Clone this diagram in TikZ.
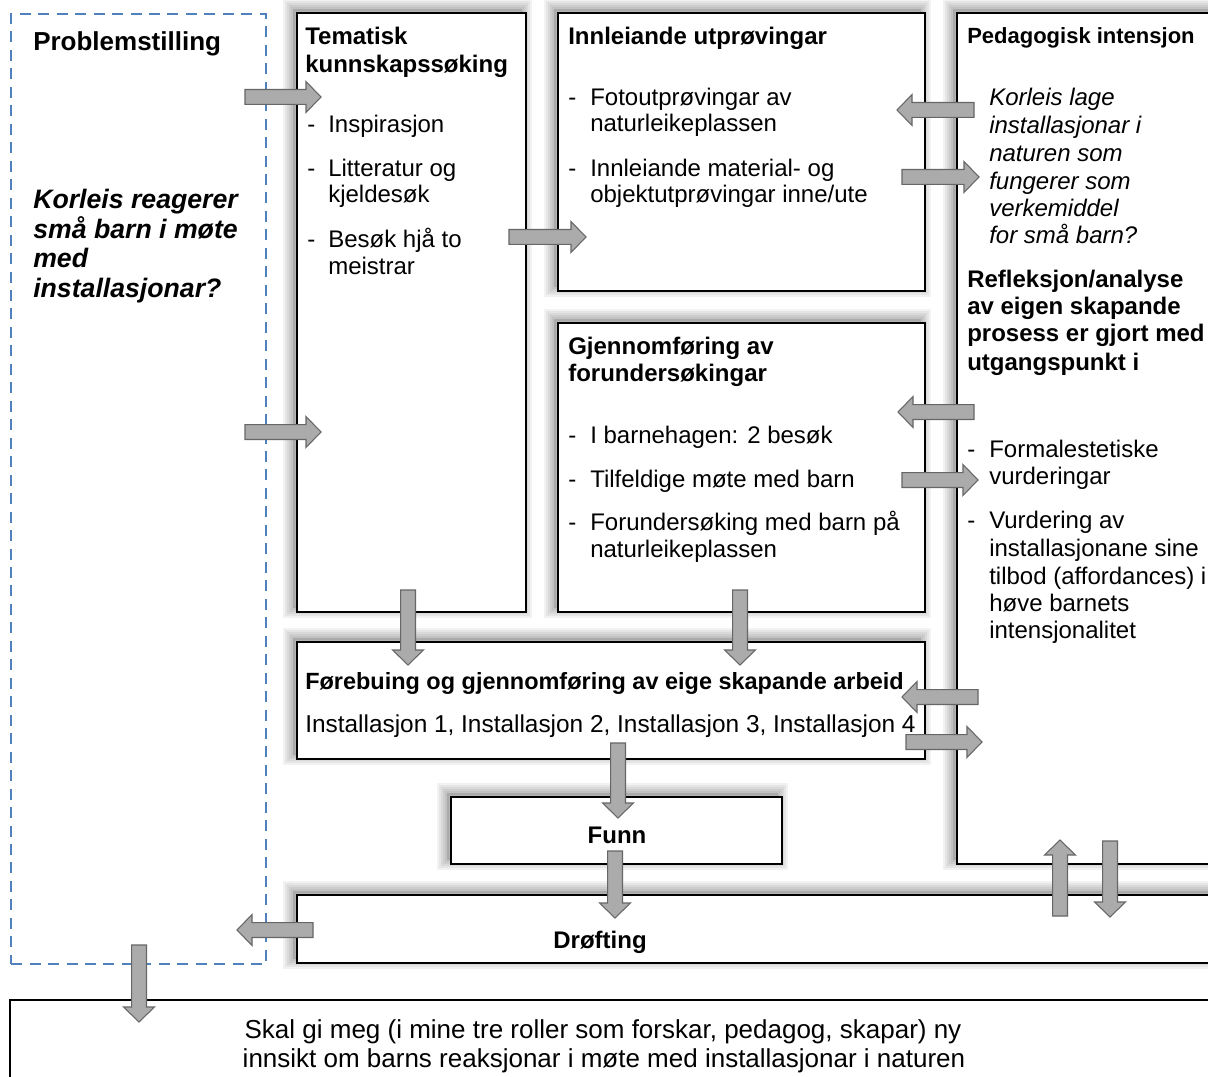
\documentclass[tikz,border=0pt]{standalone}
\usepackage{fontspec}
\setmainfont{Liberation Sans}
\usetikzlibrary{calc}
\definecolor{dashblue}{HTML}{4F81BD}
\definecolor{arrfill}{HTML}{ABABAB}
\definecolor{arrline}{HTML}{666666}
\tikzset{
  shz/.style={transform canvas={xshift=-3pt,yshift=3pt}},
  sh/.style={
    preaction={fill=black, fill opacity=0.12, shz},
    preaction={draw=black, draw opacity=0.05, line width=3pt, shz},
    preaction={draw=black, draw opacity=0.05, line width=6pt, shz},
    preaction={draw=black, draw opacity=0.05, line width=9pt, shz},
    preaction={draw=black, draw opacity=0.05, line width=12pt, shz},
    preaction={draw=black, draw opacity=0.05, line width=15pt, shz}},
  box/.style={draw=black, line width=1.1pt, fill=white, inner sep=0pt, outer sep=0pt, anchor=north west},
  dbox/.style={draw=dashblue, line width=1.7pt, dash pattern=on 8.25pt off 5.6pt, inner sep=0pt, anchor=north west},
  blockarrow/.style={fill=arrfill, draw=arrline, line width=0.8pt, line join=miter},
  txt/.style={anchor=base west, inner sep=0pt, font=\fontsize{18}{21}\selectfont},
  btxt/.style={anchor=base west, inner sep=0pt, font=\fontsize{18}{21}\selectfont\bfseries},
  itxt/.style={anchor=base west, inner sep=0pt, font=\fontsize{18}{21}\selectfont\itshape},
}
\newcommand\bx[6][]{\node[box,#1, minimum width={(#4-#2)*0.75pt}, minimum height={(#5-#3)*0.75pt}] (#6) at (#2,#3) {};}
\newcommand\barrow[2]{%
  \coordinate (ban) at ($(#2)!11.25pt!(#1)$);
  \draw[blockarrow] ($(#1)!5.6pt!90:(#2)$) -- ($(ban)!5.6pt!90:(#2)$) -- ($(ban)!11.6pt!90:(#2)$) -- (#2)
    -- ($(ban)!11.6pt!-90:(#2)$) -- ($(ban)!5.6pt!-90:(#2)$) -- ($(#1)!5.6pt!-90:(#2)$) -- cycle;}
\begin{document}
\begin{tikzpicture}[x=0.75pt,y=-0.75pt]
\useasboundingbox (0,0) rectangle (1208,1077);
\fill[white] (0,0) rectangle (1208,1077);
% boxes
\node[dbox, minimum width={255*0.75pt}, minimum height={950*0.75pt}] (prob) at (10,13) {};
\bx[sh]{297}{13}{526}{612}{tem}
\bx[sh]{558}{13}{925}{291}{inn}
\bx[sh]{957}{13}{1220}{864}{ped}
\bx[sh]{558}{323}{925}{612}{gje}
\bx[sh]{297}{642}{925}{759}{fore}
\bx[sh]{451}{797}{782}{864}{funn}
\bx[sh]{297}{895}{1220}{963}{dro}
\bx{10}{1000}{1220}{1095}{bot}
% Problemstilling
\node[anchor=base west, inner sep=0pt, font=\fontsize{19.5}{22}\selectfont\bfseries] (p1) at (33,51) {Problemstilling};
\foreach \t/\y [count=\i] in {Korleis reagerer/209, små barn i møte/239, med/268, installasjonar?/298}
  \node[anchor=base west, inner sep=0pt, font=\fontsize{20}{22}\selectfont\bfseries\itshape] (pq\i) at (33,\y) {\t};
% Tematisk
\node[btxt] (t1) at (305,45) {Tematisk};
\node[btxt] (t2) at (305,73) {kunnskapssøking};
\foreach \y in {133,177,248} \node[txt] at (307,\y) {-};
\foreach \t/\y [count=\i] in {Inspirasjon/133, Litteratur og/177, kjeldesøk/203, Besøk hjå to/248, meistrar/275}
  \node[txt] (ti\i) at (328,\y) {\t};
% Innleiande
\node[btxt] (i1) at (568,45) {Innleiande utprøvingar};
\foreach \y in {106,177} \node[txt] at (568,\y) {-};
\foreach \t/\y [count=\i] in {Fotoutprøvingar av/106, naturleikeplassen/132, Innleiande material- og/177}
  \node[txt] (ii\i) at (590,\y) {\t};
\node[txt] (ii4) at (590,203) {objektutprøvingar inne/ute};
% Gjennomforing
\node[btxt] (g1) at (568,354) {Gjennomføring av};
\node[btxt] (g2) at (568,381) {forundersøkingar};
\foreach \y in {443,487,530} \node[txt] at (568,\y) {-};
\foreach \t/\y [count=\i] in {I barnehagen: 2 besøk/443, Tilfeldige møte med barn/487, Forundersøking med barn på/530, naturleikeplassen/557}
  \node[txt] (gi\i) at (590,\y) {\t};
% Pedagogisk
\node[anchor=base west, inner sep=0pt, font=\fontsize{16.5}{20}\selectfont\bfseries] (pe1) at (967,44) {Pedagogisk intensjon};
\foreach \t/\y [count=\i] in {Korleis lage/106, installasjonar i/134, naturen som/162, fungerer som/190, verkemiddel/217, for små barn?/244}
  \node[itxt] (pk\i) at (989,\y) {\t};
\node[btxt] (pr1) at (967,288) {Refleksjon/analyse};
\foreach \t/\y [count=\i from 2] in {av eigen skapande/315, prosess er gjort med/342, utgangspunkt i/370}
  \node[btxt] (pr\i) at (967,\y) {\t};
\foreach \y in {457,528} \node[txt] at (967,\y) {-};
\foreach \t/\y [count=\i] in {Formalestetiske/457, vurderingar/484, Vurdering av/528, installasjonane sine/556, tilbod (affordances) i/584, høve barnets/611, intensjonalitet/638}
  \node[txt] (pi\i) at (989,\y) {\t};
% Forebuing
\node[anchor=base west, inner sep=0pt, font=\fontsize{17.6}{21}\selectfont\bfseries] (f1) at (305,689) {Førebuing og gjennomføring av eige skapande arbeid};
\node[anchor=base west, inner sep=0pt, font=\fontsize{18.3}{21}\selectfont] (f2) at (305,732) {Installasjon 1, Installasjon 2, Installasjon 3, Installasjon 4};
% Funn, Drofting
\node[btxt, anchor=base] (fu) at (617,843) {Funn};
\node[btxt, anchor=base] (dr) at (600,948) {Drøfting};
% bottom
\node[anchor=base, inner sep=0pt, font=\fontsize{19.5}{22}\selectfont] (b1) at (603,1038) {Skal gi meg (i mine tre roller som forskar, pedagog, skapar) ny};
\node[anchor=base, inner sep=0pt, font=\fontsize{19.5}{22}\selectfont] (b2) at (604,1067) {innsikt om barns reaksjonar i møte med installasjonar i naturen};
% arrow end points
\coordinate (a1s) at (245,97);  \coordinate (a1e) at (321,97);
\coordinate (a2s) at (245,432); \coordinate (a2e) at (321,432);
\coordinate (a3s) at (509,237); \coordinate (a3e) at (586,237);
\coordinate (a4s) at (974,110); \coordinate (a4e) at (897,110);
\coordinate (a5s) at (902,177); \coordinate (a5e) at (979,177);
\coordinate (a6s) at (974,412); \coordinate (a6e) at (898,412);
\coordinate (a7s) at (902,480); \coordinate (a7e) at (978,480);
\coordinate (a8s) at (978,697); \coordinate (a8e) at (902,697);
\coordinate (a9s) at (906,742); \coordinate (a9e) at (982,742);
\coordinate (a10s) at (408,590); \coordinate (a10e) at (408,665);
\coordinate (a11s) at (740,590); \coordinate (a11e) at (740,665);
\coordinate (a12s) at (618,743); \coordinate (a12e) at (618,818);
\coordinate (a13s) at (615,851); \coordinate (a13e) at (615,918);
\coordinate (a14s) at (313,930); \coordinate (a14e) at (237,930);
\coordinate (a15s) at (139,945); \coordinate (a15e) at (139,1022);
\coordinate (a16s) at (1060,916); \coordinate (a16e) at (1060,840);
\coordinate (a17s) at (1110,841); \coordinate (a17e) at (1110,917);
\foreach \k in {1,...,17} {\barrow{a\k s}{a\k e}}
\end{tikzpicture}
\end{document}
